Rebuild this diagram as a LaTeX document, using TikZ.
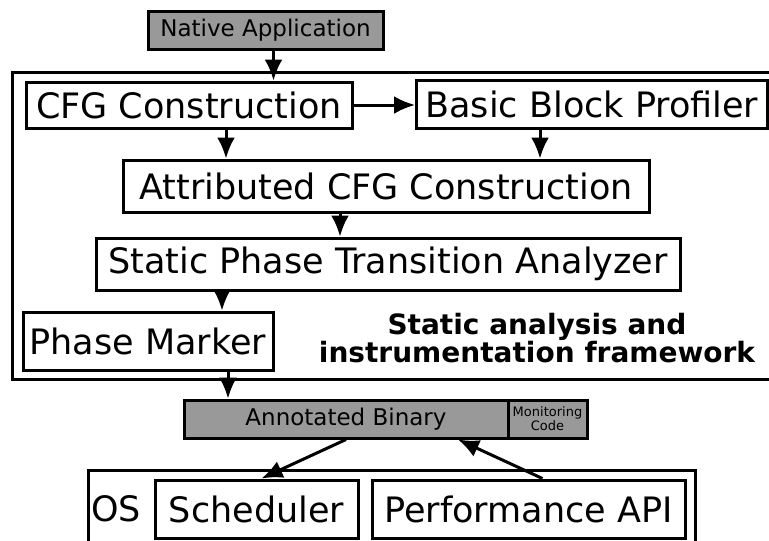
\documentclass[tikz,border=0pt]{standalone}
\usepackage{fontspec}
\setmainfont{DejaVu Sans}
\usetikzlibrary{arrows.meta}
\definecolor{boxgray}{gray}{0.6}

\begin{document}
\begin{tikzpicture}[x=1pt, y=-1pt, line width=3pt,
    box/.style={draw, fill=white, inner sep=0pt, font=\fontsize{35}{40}\selectfont},
    graybox/.style={draw, fill=boxgray, inner sep=0pt, font=\fontsize{23}{27}\selectfont},
    arr/.style={-{Latex[length=21pt, width=18pt]}}]
  \useasboundingbox (0,0) rectangle (769,541);
  % frames
  \draw (12,72) rectangle (790,379);
  \draw (88,470) rectangle (695,570);
  \node[graybox, minimum width=235, minimum height=38] (nat) at (265.5,30) {Native Application};
  \node[box, minimum width=326, minimum height=46] (cfg) at (189,105) {CFG Construction};
  \node[box, anchor=west, inner xsep=9pt, minimum height=48] (bbp) at (415,104) {Basic Block Profiler};
  \node[box, minimum width=526, minimum height=52] (acfg) at (386,186) {Attributed CFG Construction};
  \node[box, minimum width=584, minimum height=52] (spta) at (388,264) {Static Phase Transition Analyzer};
  \node[box, minimum width=250, minimum height=58] (pm) at (148,341) {Phase Marker};
  \node[font=\bfseries\fontsize{28}{28}\selectfont, align=center] (sa) at (537,338)
    {Static analysis and\\instrumentation framework};
  \node[graybox, minimum width=324, minimum height=38] (ab) at (346,419) {Annotated Binary};
  \node[graybox, minimum width=79, minimum height=38, align=center,
    font=\fontsize{13}{14}\selectfont] (mc) at (547.5,419) {Monitoring\\Code};
  \node[font=\fontsize{35}{40}\selectfont] (os) at (116,509) {OS};
  \node[box, minimum width=203, minimum height=58] (sch) at (256.5,509) {Scheduler};
  \node[box, minimum width=313, minimum height=58] (papi) at (528.5,509) {Performance API};
  % connectors
  \draw[arr] ([xshift=8pt]nat.south) -- ([xshift=8pt]nat.south |- cfg.north);
  \draw[arr] (cfg.east) -- (cfg.east -| bbp.west);
  \draw[arr] ([xshift=37pt]cfg.south) -- ([xshift=37pt]cfg.south |- acfg.north);
  \draw[arr] ([xshift=125pt]bbp.south west) coordinate (b1) -- (b1 |- acfg.north);
  \draw[arr] ([xshift=-46pt]acfg.south) -- ([xshift=-46pt]acfg.south |- spta.north);
  \draw[arr] ([xshift=74pt]pm.north |- spta.south) -- ([xshift=74pt]pm.north);
  \draw[arr] ([xshift=80pt]pm.south) -- ([xshift=80pt]pm.south |- ab.north);
  \draw[arr] (ab.south) -- ([xshift=5pt]sch.north);
  \draw[arr] ([xshift=14pt]papi.north) -- ([xshift=112pt]ab.south);
\end{tikzpicture}
\end{document}
